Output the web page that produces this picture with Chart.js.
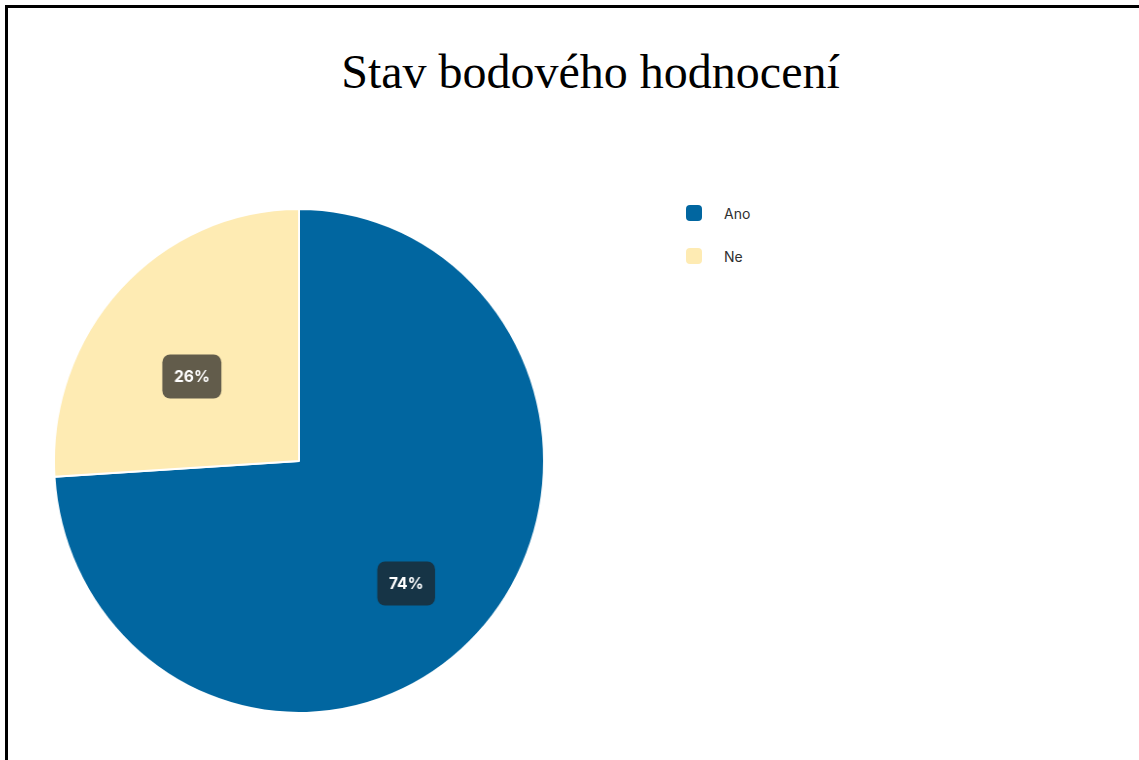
<!DOCTYPE html>
<html lang="cs">
<head>
<meta charset="utf-8">
<title>Stav bodového hodnocení</title>
<script src="https://cdn.jsdelivr.net/npm/chart.js@4.4.1/dist/chart.umd.min.js"></script>
<style>
  html, body { margin: 0; padding: 0; background: #fff; overflow: hidden; }
  .frame {
    position: absolute; left: 5px; top: 5px;
    width: 1300px; height: 900px;
    border: 3px solid #000;
  }
  .title {
    position: absolute; left: 0; width: 1181px; top: 44px;
    text-align: center;
    font-family: "Liberation Serif", "Times New Roman", serif;
    font-size: 48px; line-height: 56px; color: #000;
    margin: 0; font-weight: normal;
  }
  #pie { position: absolute; left: 53px; top: 208px; }
  #legend {
    position: absolute; left: 686px; top: 202px;
    list-style: none; margin: 0; padding: 0;
    font-family: Inter, "Noto Sans", sans-serif; font-size: 14px; color: #2f2f2f;
  }
  #legend li { display: flex; align-items: center; height: 22px; margin-bottom: 21px; }
  #legend .swatch { width: 16px; height: 16px; border-radius: 4px; margin-right: 22px; }
</style>
</head>
<body>
<div class="frame"></div>
<h1 class="title">Stav bodového hodnocení</h1>
<canvas id="pie" width="506" height="506" style="width: 492px; height: 506px;"></canvas>
<ul id="legend"></ul>
<script>
  const categories = ['Ano', 'Ne'];
  const values = [74, 26];
  const sliceColors = ['#0166a0', '#feebb3'];

  // legend as a plain list, built from the chart's own data
  const htmlLegend = {
    id: 'htmlLegend',
    afterUpdate(chart) {
      const ul = document.getElementById('legend');
      ul.innerHTML = '';
      const items = chart.options.plugins.legend.labels.generateLabels(chart);
      items.forEach(item => {
        const li = document.createElement('li');
        const box = document.createElement('span');
        box.className = 'swatch';
        box.style.background = item.fillStyle;
        const txt = document.createElement('span');
        txt.textContent = item.text;
        li.appendChild(box);
        li.appendChild(txt);
        ul.appendChild(li);
      });
    }
  };

  // percentage badges drawn on each slice
  const sliceBadges = {
    id: 'sliceBadges',
    afterDatasetsDraw(chart) {
      const ctx = chart.ctx;
      const data = chart.data.datasets[0].data;
      const total = data.reduce((a, b) => a + b, 0);
      chart.getDatasetMeta(0).data.forEach((arc, i) => {
        const p = arc.getProps(['x', 'y', 'startAngle', 'endAngle', 'outerRadius'], true);
        const mid = (p.startAngle + p.endAngle) / 2;
        const r = p.outerRadius * 0.6;
        const cx = p.x + Math.cos(mid) * r;
        const cy = p.y + Math.sin(mid) * r + 19;
        const text = Math.round(data[i] / total * 100) + '%';

        ctx.save();
        ctx.font = 'bold 16px Inter, "Noto Sans", sans-serif';
        const w = ctx.measureText(text).width + 24;
        const h = 44;
        ctx.fillStyle = 'rgba(32, 32, 32, 0.7)';
        ctx.beginPath();
        ctx.roundRect(cx - w / 2, cy - h / 2, w, h, 8);
        ctx.fill();
        ctx.fillStyle = '#fff';
        ctx.textAlign = 'center';
        ctx.textBaseline = 'middle';
        ctx.fillText(text, cx, cy + 1);
        ctx.restore();
      });
    }
  };

  const ctx = document.getElementById('pie').getContext('2d');
  new Chart(ctx, {
    type: 'pie',
    data: {
      labels: categories,
      datasets: [{
        data: values,
        backgroundColor: sliceColors,
        borderColor: '#fff',
        borderWidth: 2,
        hoverOffset: 0
      }]
    },
    options: {
      responsive: false,
      animation: false,
      layout: { padding: 0 },
      plugins: {
        legend: { display: false },
        title: { display: false },
        tooltip: { enabled: false }
      }
    },
    plugins: [htmlLegend, sliceBadges]
  });
</script>
</body>
</html>
